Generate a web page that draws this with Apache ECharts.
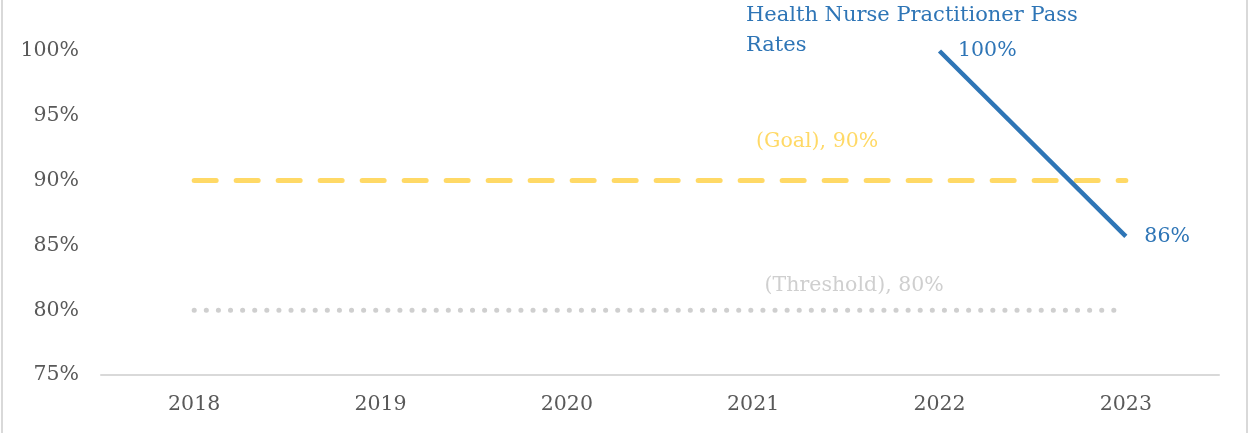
<!DOCTYPE html>
<html><head><meta charset="utf-8">
<script src="https://cdn.jsdelivr.net/npm/echarts@6/dist/echarts.min.js"></script>
<style>html,body{margin:0;padding:0;background:#fff}#c{width:1249px;height:433px}</style>
</head><body><div id="c"></div>
<script>
const years = ['2018','2019','2020','2021','2022','2023'];
const passRates = [null, null, null, null, 100, 85.7];
const goal = [90, 90, 90, 90, 90, 90];
const threshold = [80, 80, 80, 80, 80, 80];
const yMin = 75, yMax = 100, yStep = 5;
const titleText = 'Health Nurse Practitioner Pass Rates';

const FONT = 'DejaVu Serif';
const FS = 20.5;
const chart = echarts.init(document.getElementById('c'));
chart.setOption({
  animation: false,
  backgroundColor: '#fff',
  grid: {left: 101, right: 30, top: 51, bottom: 58},
  xAxis: {
    type: 'category', data: years, boundaryGap: true,
    axisLine: {lineStyle: {color: '#d9d9d9', width: 2}},
    axisTick: {show: false},
    axisLabel: {color: '#595959', fontFamily: FONT, fontSize: FS, margin: 19}
  },
  yAxis: {
    type: 'value', min: yMin, max: yMax, interval: yStep,
    splitLine: {show: false}, axisLine: {show: false}, axisTick: {show: false},
    axisLabel: {color: '#595959', fontFamily: FONT, fontSize: FS, margin: 22, formatter: '{value}%'}
  },
  series: [
    {
      type: 'line', data: threshold, symbol: 'none', z: 2, silent: true,
      lineStyle: {color: '#cfcfcf', width: 5, type: [0.1, 12], cap: 'round'},
      markPoint: {
        symbol: 'circle', symbolSize: 1, itemStyle: {color: 'rgba(0,0,0,0)'},
        label: {show: true, position: 'inside', formatter: '(Threshold), 80%', color: '#cfcfcf', fontFamily: FONT, fontSize: FS},
        data: [{coord: [3, threshold[3]], label: {offset: [101, -25]}}]
      }
    },
    {
      type: 'line', data: goal, symbol: 'none', z: 3, silent: true,
      lineStyle: {color: '#ffd966', width: 5, type: [22, 20], cap: 'round'},
      markPoint: {
        symbol: 'circle', symbolSize: 1, itemStyle: {color: 'rgba(0,0,0,0)'},
        label: {show: true, position: 'inside', formatter: '(Goal), 90%', color: '#ffd966', fontFamily: FONT, fontSize: FS},
        data: [{coord: [3, goal[3]], label: {offset: [64, -39]}}]
      }
    },
    {
      type: 'line', data: passRates, symbol: 'circle', symbolSize: 1, showSymbol: true,
      itemStyle: {color: 'rgba(0,0,0,0)'}, z: 4, connectNulls: false, clip: false,
      lineStyle: {color: '#2e75b6', width: 4.5, cap: 'butt'},
      label: {
        show: true, position: 'right', distance: 18, offset: [1, 2], color: '#2e75b6', fontFamily: FONT, fontSize: FS,
        formatter: p => p.value == null ? '' : Math.round(p.value) + '%'
      },
      labelLayout: {hideOverlap: false}
    }
  ],
  graphic: [
    {type: 'text', left: 746, top: 1, style: {text: titleText, width: 345, overflow: 'break', fill: '#2e75b6', font: '21px "DejaVu Serif"', lineHeight: 30}},
    {type: 'line', shape: {x1: 2, y1: 0, x2: 2, y2: 433}, style: {stroke: '#d9d9d9', lineWidth: 2}},
    {type: 'line', shape: {x1: 1247, y1: 0, x2: 1247, y2: 433}, style: {stroke: '#d9d9d9', lineWidth: 2}}
  ]
});
</script></body></html>
